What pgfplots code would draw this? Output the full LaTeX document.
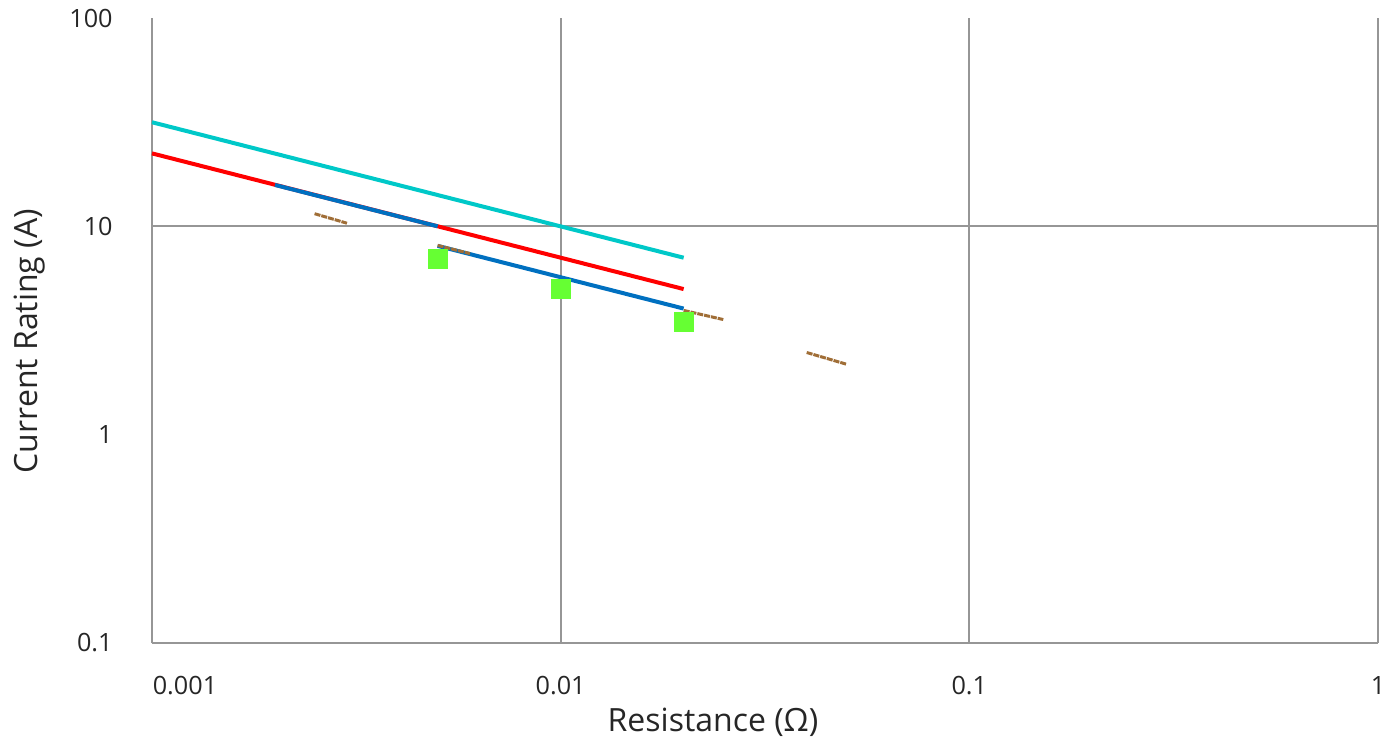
\documentclass[border=0pt]{standalone}
\usepackage{pgfplots}
\pgfplotsset{compat=1.18}
\usepackage{fontspec}
\setmainfont{Open Sans}
\definecolor{cyanl}{RGB}{0,200,200}
\definecolor{redl}{RGB}{255,0,0}
\definecolor{bluel}{RGB}{0,112,192}
\definecolor{brownl}{RGB}{160,110,55}
\definecolor{greenl}{RGB}{102,255,51}
\definecolor{gridg}{RGB}{150,150,150}
\begin{document}
\begin{tikzpicture}
\begin{axis}[
  name=ax,
  scale only axis,
  width=613pt, height=312.5pt,
  xmode=log, ymode=log,
  xmin=0.001, xmax=1, ymin=0.1, ymax=100,
  axis x line*=bottom, axis y line*=left,
  axis line style={draw=gridg, line width=1pt, -},
  xtick={0.001,0.01,0.1,1},
  xticklabels={\hspace*{33pt}0.001,0.01,0.1,1},
  ytick={0.1,1,10,100},
  yticklabels={0.1,1,10,100},
  minor tick num=0,
  major tick length=0pt, minor tick length=0pt,
  xminorticks=false, yminorticks=false,
  xmajorgrids=true,
  extra y ticks={10}, extra y tick labels={},
  extra y tick style={ymajorgrids=true},
  major grid style={draw=gridg, line width=1pt},
  tick label style={font=\fontsize{12.6}{14}\selectfont, text=black!85},
  xticklabel style={anchor=north, inner sep=0pt, yshift=-16.5pt},
  yticklabel style={anchor=east, inner sep=0pt, xshift=-19.5pt},
  xlabel={Resistance (Ω)},
  ylabel={Current Rating (A)},
  label style={font=\fontsize{16}{18}\selectfont, text=black!85},
  xlabel style={at={(axis description cs:0.4576,-0.141)}, anchor=base},
  ylabel style={at={(axis description cs:-0.093,0.483)}, anchor=base, rotate=0},
  clip=false,
]
\addplot[cyanl, line width=2pt] coordinates {(0.001,31.6) (0.02,7.07)};
\addplot[redl, line width=2pt] coordinates {(0.001,22.4) (0.02,5.0)};
\addplot[bluel, line width=2pt] coordinates {(0.002,15.8) (0.005,10.0)};
\addplot[bluel, line width=2pt] coordinates {(0.005,8.06) (0.02,4.03)};
\addplot[brownl, line width=1.5pt, dash pattern=on 3pt off 0.5pt] coordinates {(0.0025,11.5) (0.003,10.35)};
\addplot[brownl, line width=1.5pt, dash pattern=on 3pt off 0.5pt] coordinates {(0.005,8.1) (0.006,7.4)};
\addplot[brownl, line width=1.5pt, dash pattern=on 3pt off 0.5pt] coordinates {(0.02,3.95) (0.025,3.57)};
\addplot[brownl, line width=1.5pt, dash pattern=on 3pt off 0.5pt] coordinates {(0.04,2.48) (0.05,2.18)};
\addplot[greenl, only marks, mark=square*, mark size=4.7pt, mark options={fill=greenl, draw=greenl, solid}] coordinates {(0.005,7.0) (0.01,5.0) (0.02,3.47)};
\end{axis}
\pgfresetboundingbox
\useasboundingbox ([xshift=-76pt,yshift=-47.5pt]ax.south west) rectangle ([xshift=8.5pt,yshift=9pt]ax.north east);
\end{tikzpicture}
\end{document}
